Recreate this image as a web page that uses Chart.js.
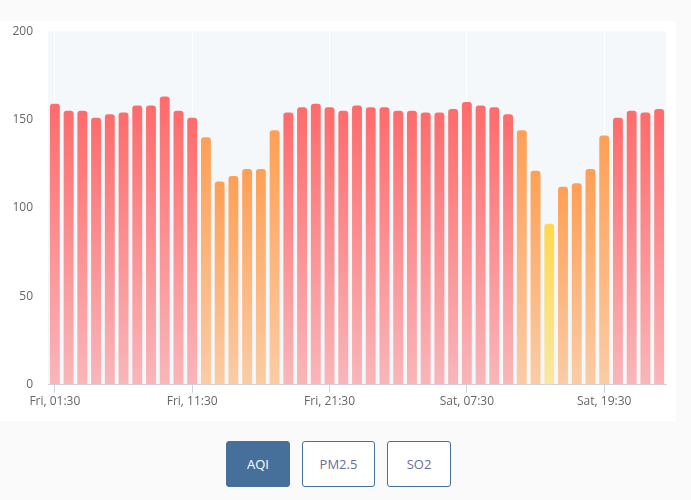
<!DOCTYPE html>
<html>
<head>
<meta charset="utf-8">
<script src="https://cdn.jsdelivr.net/npm/chart.js@4/dist/chart.umd.min.js"></script>
<style>
  body { margin: 0; background: #fafafa; font-family: "Open Sans", sans-serif; }
  .card { position: absolute; left: 0; top: 21px; width: 676px; height: 400px; background: #fff; }
  /* the y ticks padding also reserves room on top, so the canvas sits a bit higher */
  .card canvas { position: absolute; left: 0; top: -4px; }
  .btns { position: absolute; top: 441px; left: 226px; display: flex; gap: 12px; }
  .btns button {
    height: 46px; border: 1px solid #46709a; border-radius: 3px; background: #fff;
    color: #6b6f94; font-family: "Open Sans", sans-serif; font-size: 13px; padding: 0;
  }
  .btns button.on { background: #46709a; color: #fff; }
</style>
</head>
<body>
<div class="card"><canvas id="aqiChart" width="676" height="406"></canvas></div>
<div class="btns">
  <button class="on" style="width:64px">AQI</button>
  <button style="width:73px">PM2.5</button>
  <button style="width:64px">SO2</button>
</div>
<script>
const hours = [
  "Fri, 01:30", "Fri, 02:30", "Fri, 03:30", "Fri, 04:30", "Fri, 05:30", "Fri, 06:30",
  "Fri, 07:30", "Fri, 08:30", "Fri, 09:30", "Fri, 10:30", "Fri, 11:30", "Fri, 12:30",
  "Fri, 13:30", "Fri, 14:30", "Fri, 15:30", "Fri, 16:30", "Fri, 17:30", "Fri, 18:30",
  "Fri, 19:30", "Fri, 20:30", "Fri, 21:30", "Fri, 22:30", "Fri, 23:30", "Sat, 00:30",
  "Sat, 01:30", "Sat, 02:30", "Sat, 03:30", "Sat, 04:30", "Sat, 05:30", "Sat, 06:30",
  "Sat, 07:30", "Sat, 08:30", "Sat, 09:30", "Sat, 10:30", "Sat, 11:30", "Sat, 12:30",
  "Sat, 13:30", "Sat, 15:30", "Sat, 16:30", "Sat, 18:30", "Sat, 19:30", "Sat, 20:30",
  "Sat, 21:30", "Sat, 22:30", "Sat, 23:30"
];
const aqi = [
  159, 155, 155, 151, 153, 154, 158, 158, 163, 155, 151, 140,
  115, 118, 122, 122, 144, 154, 157, 159, 157, 155, 158, 157,
  157, 155, 155, 154, 154, 156, 160, 158, 157, 153, 144, 121,
  91, 112, 114, 122, 141, 151, 155, 154, 156
];
const yTicks = [0, 50, 100, 150, 200];

// top / bottom colour of each AQI band
const red = ["#ff6b6b", "#f9b6ba"];
const orange = ["#ff9f55", "#fbcca5"];
const yellow = ["#ffd84e", "#f9e8a5"];

function barColor(ctx) {
  const v = ctx.raw;
  const c = v > 150 ? red : v > 100 ? orange : yellow;
  const area = ctx.chart.chartArea;
  if (!area) return c[0];
  const top = ctx.chart.scales.y.getPixelForValue(v);
  const g = ctx.chart.ctx.createLinearGradient(0, top, 0, area.bottom);
  g.addColorStop(0, c[0]);
  g.addColorStop(1, c[1]);
  return g;
}

const areaBg = {
  id: "areaBg",
  beforeDraw(chart) {
    const a = chart.chartArea;
    chart.ctx.save();
    chart.ctx.fillStyle = "#f5f8fa";
    chart.ctx.fillRect(a.left, a.top, a.right - a.left, a.bottom - a.top);
    chart.ctx.restore();
  },
};

const every10 = (c) => (c.index % 10 === 0 ? "#ffffff" : "rgba(0,0,0,0)");
const tickFont = { family: "Open Sans", size: 12 };

new Chart(document.getElementById("aqiChart"), {
  type: "bar",
  data: {
    labels: hours,
    datasets: [{ data: aqi, backgroundColor: barColor, borderRadius: 3 }],
  },
  options: {
    responsive: false,
    animation: false,
    layout: { padding: { top: 0, right: 10, left: 0, bottom: 12 } },
    plugins: { legend: { display: false }, tooltip: { enabled: false } },
    scales: {
      x: {
        grid: {
          offset: false,
          color: every10,
          tickColor: (c) => (c.index % 10 === 0 ? "#c5d3e8" : "rgba(0,0,0,0)"),
          tickLength: 8,
        },
        border: { color: "#c5d3e8" },
        ticks: {
          autoSkip: false,
          maxRotation: 0,
          padding: 2,
          color: "#666",
          font: tickFont,
          callback: function (val, i) {
            return i % 10 === 0 ? this.getLabelForValue(val) : "";
          },
        },
      },
      y: {
        min: 0,
        max: 200,
        afterBuildTicks: (s) => { s.ticks = yTicks.map((v) => ({ value: v })); },
        afterFit: (s) => { s.width = 48; },
        grid: { display: false },
        border: { display: false },
        ticks: { padding: 7, color: "#666", font: tickFont },
      },
    },
  },
  plugins: [areaBg],
});
</script>
</body>
</html>
